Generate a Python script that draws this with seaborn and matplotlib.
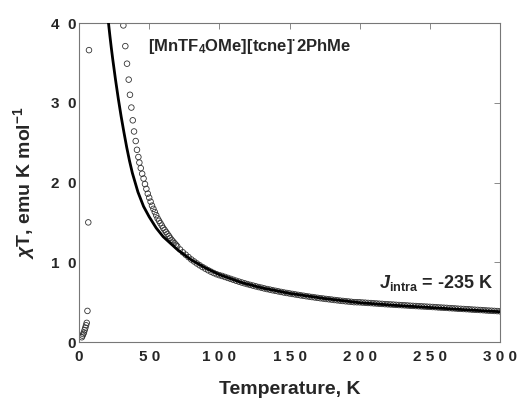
import matplotlib
matplotlib.use("Agg")
import matplotlib.pyplot as plt
import pandas as pd
import seaborn as sns

# measured chi*T (emu K / mol) vs temperature (K)
data_t = [2.0, 2.5, 3.0, 3.5, 4.0, 4.5, 5.0, 5.5, 6.0, 6.6, 7.1,
          31.6, 33.0, 34.2, 35.4, 36.3, 37.3, 38.3, 39.2, 40.4, 41.3, 42.3,
          43, 44, 45, 46, 47, 48, 49, 50, 51, 52, 53, 54, 55, 56, 57, 58, 59,
          60, 61, 62, 63, 64, 65, 66, 67, 68, 69, 70, 72, 74, 76, 78,
          80, 82, 84, 86, 88, 90, 92, 94, 96, 98, 100, 102, 104, 106, 108, 110,
          112, 114, 116, 118, 120, 122, 124, 126, 128, 130, 132, 134, 136, 138,
          140, 142, 144, 146, 148, 150, 152, 154, 156, 158, 160, 162, 164, 166,
          168, 170, 172, 174, 176, 178, 180, 182, 184, 186, 188, 190, 192, 194,
          196, 198, 200, 202, 204, 206, 208, 210, 212, 214, 216, 218, 220, 222,
          224, 226, 228, 230, 232, 234, 236, 238, 240, 242, 244, 246, 248, 250,
          252, 254, 256, 258, 260, 262, 264, 266, 268, 270, 272, 274, 276, 278,
          280, 282, 284, 286, 288, 290, 292, 294, 296, 298, 300]
data_chit = [0.6, 0.8, 1.0, 1.2, 1.5, 1.8, 2.1, 2.4, 3.9, 15.0, 36.6,
             39.7, 37.1, 34.9, 32.9, 31.0, 29.4, 27.8, 26.4, 25.2, 24.1, 23.2,
             22.5, 21.8, 21.1, 20.5, 19.8, 19.2, 18.6, 18.1, 17.6, 17.1, 16.7,
             16.3, 15.9, 15.5, 15.2, 14.9, 14.6, 14.3, 14.05, 13.8, 13.55,
             13.3, 13.05, 12.8, 12.6, 12.4, 12.2, 12.0,
             11.6, 11.25, 10.95, 10.65, 10.35, 10.1, 9.85,
             9.62, 9.4, 9.2, 9.0, 8.82, 8.65, 8.5, 8.38, 8.28, 8.16, 8.04, 7.92,
             7.8, 7.68, 7.57, 7.46, 7.36, 7.26, 7.16, 7.07, 6.98, 6.89, 6.81,
             6.72, 6.64, 6.57, 6.49, 6.42, 6.35, 6.28, 6.21, 6.15, 6.09, 6.03,
             5.97, 5.91, 5.85, 5.8, 5.74, 5.69, 5.64, 5.59, 5.54, 5.49, 5.45,
             5.4, 5.36, 5.32, 5.27, 5.23, 5.19, 5.15, 5.11, 5.08, 5.04, 5.0,
             4.99, 4.98, 4.95, 4.93, 4.9, 4.88, 4.85, 4.83, 4.8, 4.78, 4.75,
             4.73, 4.71, 4.69, 4.66, 4.64, 4.62, 4.6, 4.58, 4.55, 4.53, 4.51,
             4.49, 4.47, 4.45, 4.43, 4.41, 4.39, 4.37, 4.34, 4.32, 4.3, 4.28,
             4.25, 4.23, 4.21, 4.18, 4.16, 4.14, 4.12, 4.1, 4.07, 4.05, 4.03,
             4.01, 3.99, 3.96, 3.94, 3.92, 3.9, 3.88, 3.85]

# fitted curve, J_intra = -235 K
fit_t = [20, 21, 22, 23, 24, 26, 28, 30, 32, 34, 36, 38, 42, 46, 50, 55, 60,
         70, 80, 90, 100, 115, 130, 150, 175, 200, 225, 250, 275, 300]
fit_chit = [41.5, 40.0, 38.4, 36.9, 35.5, 32.9, 30.5, 28.3, 26.3, 24.4, 22.7,
            21.2, 18.8, 17.0, 15.7, 14.3, 13.2, 11.6, 10.3, 9.3, 8.45, 7.5,
            6.8, 6.1, 5.45, 4.93, 4.6, 4.33, 4.05, 3.8]

x_ticks = [0, 50, 100, 150, 200, 250, 300]
x_labels = ["0", "5 0", "1 0 0", "1 5 0", "2 0 0", "2 5 0", "3 0 0"]
y_ticks = [0, 10, 20, 30, 40]
y_labels = ["0", "1  0", "2  0", "3  0", "4  0"]

sns.set_theme(style="white")
plt.rcParams["font.family"] = ["Liberation Sans", "DejaVu Sans"]
plt.rcParams["mathtext.fontset"] = "custom"
plt.rcParams["mathtext.rm"] = "Liberation Sans:bold"
plt.rcParams["mathtext.bf"] = "Liberation Sans:bold"
plt.rcParams["mathtext.it"] = "Liberation Sans:bold:italic"

pts = pd.DataFrame({"T": data_t, "chiT": data_chit})
fit = pd.DataFrame({"T": fit_t, "chiT": fit_chit})

fig = plt.figure(figsize=(5.24, 4.01), dpi=100)
ax = fig.add_axes([0.1508, 0.1471, 0.8034, 0.7955])

sns.scatterplot(x="T", y="chiT", data=pts, ax=ax, marker="o", s=16,
                facecolor="none", edgecolor="#333333", linewidth=0.6, zorder=2)
sns.lineplot(x="T", y="chiT", data=fit, ax=ax, color="black", linewidth=2.0,
             estimator=None, zorder=3)

ax.set_xlim(0, 300)
ax.set_ylim(0, 40)
ax.set_xticks(x_ticks)
ax.set_xticklabels(x_labels, fontsize=11, fontweight="bold")
ax.set_yticks(y_ticks)
ax.set_yticklabels(y_labels, fontsize=11, fontweight="bold")
ax.tick_params(direction="in", length=4, width=0.6, color="#777777",
               top=True, right=True)
ax.tick_params(axis="x", pad=6)
ax.tick_params(axis="y", pad=2)
for sp in ax.spines.values():
    sp.set_color("#777777")
    sp.set_linewidth(0.8)

ax.set_xlabel("Temperature, K", fontsize=14, fontweight="bold", labelpad=12)
ax.set_ylabel(r"$\chi$T, emu K mol$^{-1}$", fontsize=14,
              fontweight="bold", labelpad=10)

ax.text(49, 37.0, r"[MnTF$_4$OMe][tcne]$^{·}$2PhMe", fontsize=12,
        fontweight="bold", va="center", ha="left")
ax.text(295, 7.4, r"$\mathit{J}_{\mathrm{intra}}$ = -235 K", fontsize=13,
        fontweight="bold", va="center", ha="right")

fig.savefig("out.png", dpi=100, facecolor="white")
